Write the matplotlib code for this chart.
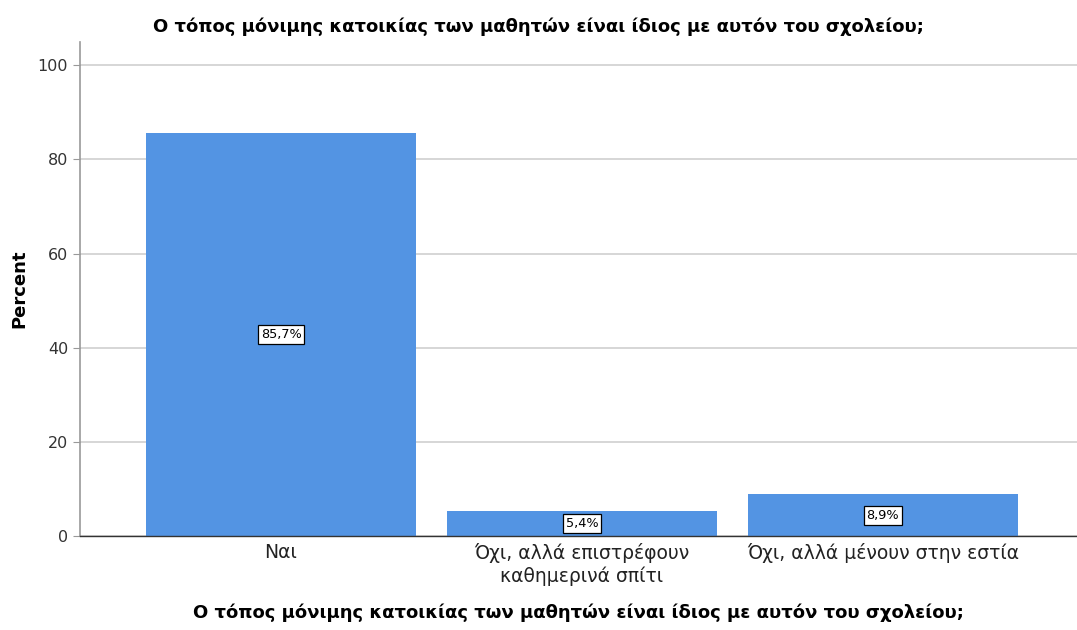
import matplotlib.pyplot as plt

plt.rcParams['font.family'] = ['DejaVu Sans']

categories = ['Ναι', 'Όχι, αλλά επιστρέφουν\nκαθημερινά σπίτι', 'Όχι, αλλά μένουν στην εστία']
percent = [85.7, 5.4, 8.9]
value_labels = ['85,7%', '5,4%', '8,9%']
yticks = [0, 20, 40, 60, 80, 100]
title = 'Ο τόπος μόνιμης κατοικίας των μαθητών είναι ίδιος με αυτόν του σχολείου;'

fig = plt.figure(figsize=(10.77, 6.3), dpi=100)
ax = fig.add_axes([0.0743, 0.149, 0.9257, 0.784])

x = range(len(categories))
ax.bar(x, percent, width=0.897, color='#5394E3', zorder=2)

# labels sit in the middle of each bar
for xi, v, lab in zip(x, percent, value_labels):
    ax.text(xi, v / 2, lab, ha='center', va='center', fontsize=9.3, zorder=3,
            bbox=dict(boxstyle='square,pad=0.22', facecolor='white', edgecolor='black', linewidth=0.9))

ax.set_xlim(-0.668, 2.645)
ax.set_ylim(0, 104.9)
ax.set_yticks(yticks)
ax.yaxis.grid(True, color='#d0d0d0', linewidth=1.2, zorder=0)
ax.set_xticks(list(x))
ax.set_xticklabels(categories, fontsize=13.5, color='#222222', linespacing=1.25)
ax.tick_params(axis='x', length=0, pad=5)
ax.tick_params(axis='y', length=5, color='#999999', labelsize=11.5, labelcolor='#333333')

for s in ['top', 'right']:
    ax.spines[s].set_visible(False)
ax.spines['left'].set_color('#999999')
ax.spines['left'].set_linewidth(1.2)
ax.spines['bottom'].set_color('#333333')
ax.spines['bottom'].set_linewidth(1.0)

ax.set_ylabel('Percent', fontsize=13, fontweight='bold', labelpad=7)
ax.set_xlabel(title, fontsize=13, fontweight='bold', labelpad=12)
fig.text(0.5, 0.957, title, ha='center', va='center', fontsize=13, fontweight='bold')

fig.savefig('out.png', dpi=100)
